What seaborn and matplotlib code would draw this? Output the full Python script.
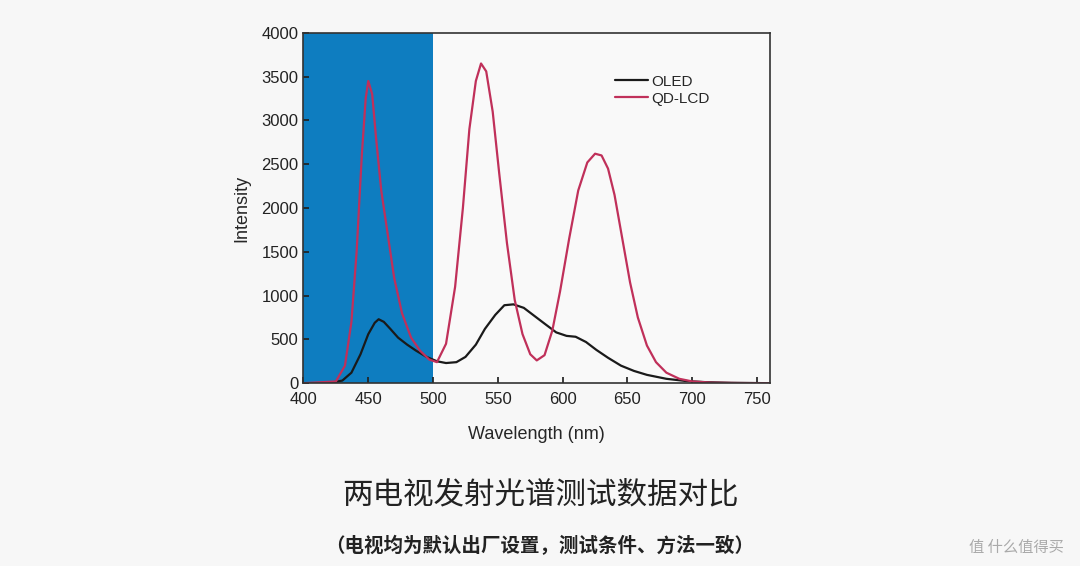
import numpy as np
import pandas as pd
import matplotlib
matplotlib.use("Agg")
import matplotlib.pyplot as plt
import seaborn as sns

# ── Data ──────────────────────────────────────────────────────────────────────
oled_x = [400, 420, 430, 437, 444, 450, 455, 458, 462, 467, 473, 480, 487, 495, 503, 510,
          518, 525, 533, 540, 548, 555, 562, 570, 578, 586, 595, 603, 610, 618, 626,
          635, 645, 655, 665, 680, 695, 710, 730, 760]
oled_y = [0, 0, 30, 120, 330, 560, 690, 730, 700, 620, 520, 440, 370, 300, 250, 230,
          240, 300, 440, 620, 780, 890, 900, 860, 770, 680, 580, 540, 530, 470, 380,
          290, 200, 140, 95, 50, 25, 12, 4, 0]
qd_x = [400, 425, 432, 437, 441, 445, 448, 450, 453, 456, 460, 465, 470, 476, 483, 490,
        497, 503, 510, 517, 523, 528, 533, 537, 541, 546, 551, 557, 563, 569, 575,
        580, 586, 592, 598, 605, 612, 619, 625, 630, 635, 640, 646, 652, 658, 665,
        672, 680, 690, 700, 715, 735, 760]
qd_y = [0, 20, 200, 700, 1500, 2600, 3250, 3450, 3300, 2800, 2200, 1700, 1200, 800, 520, 370,
        270, 240, 450, 1100, 2000, 2900, 3450, 3650, 3560, 3100, 2400, 1600, 950, 560, 330,
        260, 320, 600, 1050, 1650, 2200, 2520, 2620, 2600, 2450, 2150, 1650, 1150, 750, 430,
        240, 120, 50, 20, 6, 2, 0]

x_ticks = [400, 450, 500, 550, 600, 650, 700, 750]
y_ticks = [0, 500, 1000, 1500, 2000, 2500, 3000, 3500, 4000]

df = pd.concat([
    pd.DataFrame({"Wavelength": oled_x, "Intensity": oled_y, "Series": "OLED"}),
    pd.DataFrame({"Wavelength": qd_x, "Intensity": qd_y, "Series": "QD-LCD"}),
])

sns.set_theme(style="white")
plt.rcParams["font.family"] = ["Liberation Sans", "Noto Sans CJK SC", "DejaVu Sans"]
CJK = ["Noto Sans CJK SC", "DejaVu Sans"]

fig = plt.figure(figsize=(10.8, 5.66), dpi=100, facecolor="#f7f7f7")
ax = fig.add_axes([0.281, 0.323, 0.432, 0.619])
ax.set_facecolor("#f9f9f9")
ax.axvspan(400, 500, color="#0e7dc0", zorder=0, lw=0)

sns.lineplot(data=df, x="Wavelength", y="Intensity", hue="Series", ax=ax,
             palette={"OLED": "#1a1a1a", "QD-LCD": "#c0305a"}, linewidth=1.6,
             sort=False, estimator=None)

ax.set_xlim(400, 760)
ax.set_ylim(0, 4000)
ax.set_xticks(x_ticks)
ax.set_yticks(y_ticks)
ax.tick_params(direction="in", length=4, labelsize=12, colors="#222", left=True, bottom=True)
ax.tick_params(axis="x", pad=6)
ax.set_xlabel("Wavelength (nm)", fontsize=13, labelpad=14)
ax.set_ylabel("Intensity", fontsize=13, labelpad=8)
for s in ax.spines.values():
    s.set_color("#333")
    s.set_linewidth(1.2)
ax.legend(loc="upper right", bbox_to_anchor=(0.9, 0.92), frameon=False,
          fontsize=11, handlelength=2.2, handletextpad=0.2, labelspacing=0.2)

fig.text(0.5, 0.11, "两电视发射光谱测试数据对比", ha="center", fontsize=22,
         color="#222", family=CJK)
fig.text(0.5, 0.025, "（电视均为默认出厂设置，测试条件、方法一致）", ha="center",
         fontsize=14, color="#222", fontweight="bold", family=CJK)
fig.text(0.985, 0.025, "值 什么值得买", ha="right", fontsize=11, color="#aaaaaa", family=CJK)

fig.savefig("out.png", dpi=100, facecolor=fig.get_facecolor())
